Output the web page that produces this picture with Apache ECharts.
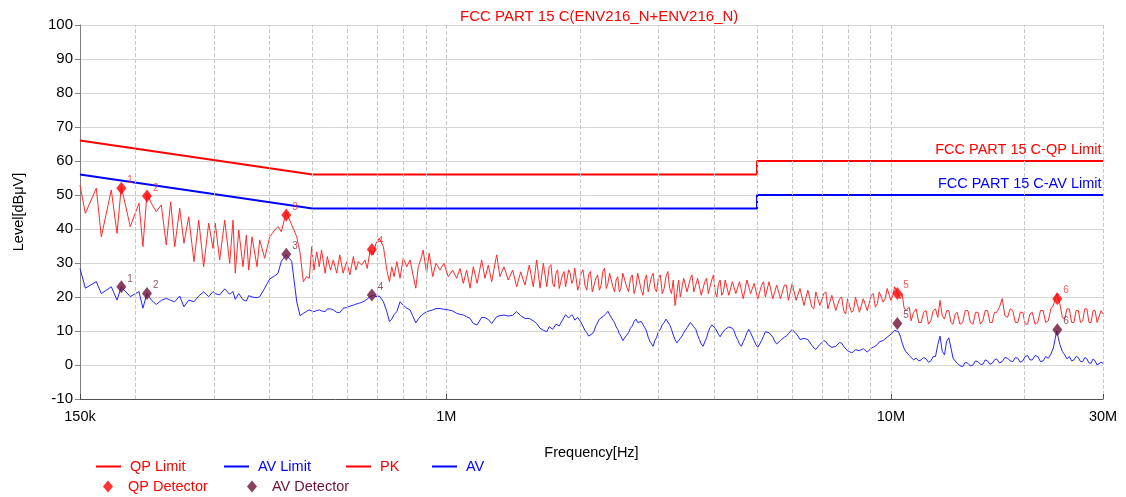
<!DOCTYPE html>
<html><head><meta charset="utf-8">
<script src="https://cdn.jsdelivr.net/npm/echarts@6/dist/echarts.min.js"></script>
<style>html,body{margin:0;padding:0;background:#fff}#c{width:1126px;height:497px}</style>
</head><body><div id="c"></div>
<script>
// Frequencies in MHz
const freqMHz = [
0.150,0.1542,0.1632,0.1675,0.1764,0.1817,0.1858,0.1946,0.2036,0.2078,
0.2122,0.2170,0.2226,0.2285,0.2345,0.2399,0.2450,0.2514,0.2570,0.2634,
0.2707,0.2774,0.2846,0.2921,0.2987,0.3022,0.3092,0.3174,0.3257,0.3313,
0.3352,0.3413,0.3489,0.3550,0.3594,0.3656,0.3752,0.3805,0.3904,0.4007,
0.4112,0.4183,0.4255,0.4366,
0.449,0.461,0.469,0.477,0.485,0.492,0.498,0.504,0.511,0.518,
0.524,0.534,0.540,0.549,0.557,0.567,0.576,0.586,0.597,0.607,
0.618,0.626,0.634,0.645,0.656,0.664,0.674,0.685,0.695,0.707,
0.722,0.735,0.745,0.754,0.763,0.774,0.787,0.800,0.815,0.829,
0.840,0.854,0.865,0.880,0.887,0.903,0.915,0.932,0.948,0.968,
0.988,1.010,1.034,1.055,1.074,1.092,1.111,1.131,1.150,1.173,
1.201,1.222,1.243,1.265,1.298,1.320,1.348,1.378,1.410,1.440,
1.470,1.503,1.537,1.569,1.597,1.625,1.653,1.683,1.704,
1.72,1.735,1.75,1.765,1.78,1.795,1.81,1.825,1.84,1.855,1.87,1.885,1.90,1.915,1.93,1.945,1.96,1.975,1.99,2.01,
2.03,2.05,2.07,2.09,2.11,2.13,2.15,2.17,2.19,2.21,2.23,2.25,2.27,2.29,2.31,2.33,2.35,2.37,2.39,2.41,
2.43,2.45,2.47,2.495,2.52,2.545,2.57,2.595,2.62,2.645,2.67,2.695,2.72,2.745,2.77,2.795,2.82,2.845,2.87,2.895,
2.92,2.945,2.97,3.00,3.03,3.06,3.09,3.12,3.15,3.18,3.21,3.24,3.27,3.30,3.33,3.36,3.39,3.42,3.45,3.48,
3.51,3.54,3.57,3.605,3.64,3.675,3.71,3.745,3.78,3.815,3.85,3.885,3.92,3.955,3.99,4.025,4.06,4.095,4.13,4.165,
4.20,4.24,4.28,4.32,4.36,4.40,4.44,4.48,4.52,4.565,4.61,4.655,4.70,4.745,4.79,4.835,4.88,4.925,4.97,5.02,
5.07,5.12,5.17,5.22,5.27,5.32,5.37,5.425,5.48,5.535,5.59,5.645,5.70,5.76,5.82,5.88,5.94,6.00,6.06,6.12,
6.18,6.245,6.31,6.375,6.44,6.505,6.57,6.64,6.71,6.78,6.85,6.92,6.99,7.065,7.14,7.215,7.29,7.365,7.44,7.515,
7.59,7.67,7.75,7.83,7.91,7.99,8.07,8.155,8.24,8.325,8.41,8.495,8.58,8.67,8.76,8.85,8.94,9.035,9.13,9.225,
9.32,9.415,9.51,9.61,9.71,9.81,9.91,10.0,10.1,10.2,10.3,10.4,10.5,10.6,10.7,10.8,10.9,11.0,11.1,11.25,
11.4,11.55,11.7,11.85,12.0,12.15,12.3,12.45,12.6,12.75,12.9,13.05,13.2,13.35,13.5,13.65,13.8,13.95,14.1,14.3,
14.5,14.7,14.9,15.1,15.3,15.5,15.7,15.9,16.1,16.3,16.5,16.7,16.9,17.1,17.3,17.55,17.8,18.05,18.3,18.55,
18.8,19.05,19.3,19.55,19.8,20.05,20.3,20.55,20.8,21.1,21.4,21.7,22.0,22.3,22.6,22.9,23.2,23.4,23.6,23.8,
24.0,24.3,24.6,24.9,25.2,25.5,25.8,26.1,26.4,26.7,27.0,27.3,27.6,27.9,28.2,28.5,28.8,29.1,29.4,29.7,
30.0];
// PK trace, dBµV
const pkLevel = [
52.9,44.6,52.0,37.7,51.5,38.7,52.5,40.7,47.6,34.8,
50.5,47.6,45.1,47.1,35.3,48.0,34.8,46.1,35.8,43.6,
30.4,42.6,28.9,41.7,34.3,41.7,30.9,42.6,29.9,42.6,
27.0,39.7,28.9,38.2,27.9,37.7,28.9,36.8,31.4,37.7,
39.7,40.7,39.2,45.0,
41.2,37.7,32.9,24.5,26.0,25.5,34.8,27.9,33.3,28.9,
33.8,27.0,31.9,27.9,30.9,27.0,32.4,27.0,30.4,26.5,
31.9,27.9,30.4,29.4,30.9,28.4,33.8,32.4,35.8,37.3,
34.8,27.9,24.5,28.9,26.0,30.4,25.5,31.4,28.9,30.9,
27.0,22.6,28.9,31.9,33.8,27.0,32.9,26.0,29.9,27.9,
29.9,26.0,27.9,25.5,28.4,24.0,27.9,22.6,28.9,24.0,
30.9,25.5,29.4,24.5,32.4,26.0,28.9,25.0,27.9,23.0,
27.4,23.5,29.4,23.0,30.9,22.6,29.9,23.0,28.9,
29.5,24,23,27,28,22.5,24.5,26.5,27.5,23,22.5,28,27,24,25,28.5,28.5,22,23.5,27,
28,23.5,22,26.5,27.5,21.5,21,25.5,26.5,22,23.5,27.5,28.5,22.5,24,27,27.5,23,21.5,25,
26,21.5,22.5,27,27,23,21.5,25.5,26.5,21,23,27,27.5,22,20.5,25,26.5,21.5,22,26,
27,22.5,21.5,25.5,26.5,21,22.5,26,27.5,22.5,21,25,17.5,21,25,20,20.5,25.5,26,21.5,
22,25.5,26.5,21.5,21,25.5,26,20.5,20.5,24.5,25.5,21,21,25,26.5,21.5,20,24,25,20.5,
21.5,25,25.5,20.5,20,24.5,25,21,21,24.5,24.5,19.5,20,25,25.5,21,21,24,24,19.5,
19.5,23.5,24.5,20,20.5,24.5,25,19.5,19,23.5,24,19.5,20,23.5,23.5,19,19.5,24,24.5,19,
18.5,22.5,23,17.5,17,22,22.5,17,16.5,21.5,22,17.5,17.5,21,21.5,16.5,16,20.5,20.5,16,
15.5,19.5,20,16,15,19.5,19.5,15.5,16,20,20,15.5,15.5,19.5,20,16,16.5,20.5,21,17,
18,21.5,22,18.5,19.5,22.5,22.5,19,20.5,23,23,20.5,19.5,21,17,16,15.5,17,13,15.5,
16.5,12.5,12.5,15.5,16,12,13,16,16.5,14,19,14.5,13.5,16,16,12.5,12,15,15.5,12,
12.5,16,16,12.5,12,15.5,15.5,12,13,16,16,12.5,12.5,15.5,15.5,17,19.5,14.5,14,16.5,
16,12.5,12.5,15.5,15.5,12,12,15,15.5,12,12.5,16,16,12.5,13,16.5,17.5,19.5,21,19.5,
18,14,13.5,16.5,16.5,12.5,12.5,16,16,12.5,13,16.5,16.5,12.5,12.5,16,16,12.5,13,16,
15];
// AV trace, dBµV
const avLevel = [
28.4,22.6,24.5,21.0,23.0,19.1,23.0,20.1,21.6,16.7,
21.1,19.1,17.8,19.0,19.6,19.0,18.6,20.3,17.1,19.1,
18.6,20.3,21.5,20.1,21.6,21.0,20.6,22.4,20.8,21.6,
19.3,21.0,19.2,18.8,20.4,20.0,19.8,20.1,22.6,25.3,
26.2,27.0,30.5,32.4,
30.5,18.5,14.5,15.2,15.8,16.2,15.9,15.7,16.0,16.2,
15.9,15.7,16.5,16.5,16.2,15.5,15.4,16.7,16.9,17.3,
17.6,17.9,18.1,18.4,18.9,19.4,20.1,20.5,20.1,20.3,
18.6,15.7,12.8,13.5,14.8,15.7,18.6,17.6,16.7,16.2,
14.5,12.4,13.5,14.7,15.0,15.7,15.9,16.2,16.6,16.6,
16.4,16.2,15.9,15.2,14.9,14.7,14.2,13.7,12.2,11.8,
14.0,13.9,13.4,12.2,14.2,14.5,14.7,14.4,14.6,15.7,
14.5,13.7,13.7,13.0,12.2,10.8,10.2,9.8,11.3,
11.5,10.5,11,12,12.5,11.5,12,13.2,13.5,14.8,14.5,13.8,13.5,14.8,14.2,13.2,12.8,14,13.5,12.5,
12,10.2,9.5,8.5,8,9.2,10,11.5,12,13.5,13,14.2,14.5,15.2,15.8,14.8,14.5,13.2,12.5,11.2,
10.5,9.2,8.5,7.2,7.5,8.8,9.5,10.8,11.5,12.8,13.5,12.5,13,12.8,12.5,11,10,8.2,7,6.2,
5.5,7.2,8,9.8,10.5,11.8,12.5,13.5,13.2,11.8,10.5,8.8,7.5,6.5,6.5,7.8,8.5,9.5,10,11,
11.5,12.5,12.2,11.2,10.5,8.8,7.5,6.2,5.5,6.8,8,9.8,11,11.8,12,10.8,10,9,8.3,9.2,
9.5,10.5,10.5,11.2,11.3,10.8,10,8.5,7.5,6.2,5.5,6.8,8,9.5,10.5,9.5,9,7.2,6,5.2,
5.5,7.2,8.5,9.8,10.3,9.5,9,8.2,7,6.2,6.5,7.2,7.5,8.2,8.5,9.2,9.5,10.5,10.3,9.2,
8.5,7.5,7,7.8,8,7.5,7,5.8,5,4.6,5,6,6.5,7.2,6.9,6,5.5,5.2,4.9,5.5,
5.8,6.6,6.4,5.5,5,4.2,4.2,3.6,3.9,4.5,4.8,4.2,4,4.8,4.5,3.8,4.2,5,5.2,5.6,
6,6.8,6.5,7.2,7.5,8.2,8.3,9,9.5,10.2,10.5,9.8,8.5,6.5,5,4,3.5,2.8,2.4,1.5,
2,1.2,1.5,2.2,1.8,0.8,1.2,2.5,2.5,6,8.5,4,3,7,8,5,2,1.2,0.5,-0.2,
-0.5,0.8,0.5,-0.3,0,1.2,1,0.2,0.2,1.5,1.2,0.2,0.5,1.5,1.8,0.6,1,2.2,2,1.2,
1,2.2,2,0.8,1.2,2.5,2.8,1.5,1.5,2.8,2.5,1,1.2,2.5,2,3.2,5,7.5,10,8,
6,4,3,1.8,2.5,1.2,1.5,2.5,2.2,1,1,2.2,1.8,0.6,0.5,1.8,1.2,0,-0.2,0.8,
0.5];
const qpLimitFreq = [0.15, 0.5, 5, 5, 30];
const qpLimitLevel = [66, 56, 56, 60, 60];
const avLimitFreq = [0.15, 0.5, 5, 5, 30];
const avLimitLevel = [56, 46, 46, 50, 50];
const detFreq = [0.1858, 0.2122, 0.4366, 0.680, 10.34, 23.68];
const qpDetLevel = [52.0, 49.7, 44.1, 34.0, 21.0, 19.5];
const avDetLevel = [23.0, 21.0, 32.6, 20.6, 12.2, 10.4];
const detLabels = ['1', '2', '3', '4', '5', '6'];
const xTickLabels = {'0.15': '150k', '1': '1M', '10': '10M', '30': '30M'};
const minorGridMHz = [0.2,0.3,0.4,0.5,0.6,0.7,0.8,0.9,2,3,4,5,6,7,8,9,20];

const FONT = 'Arial, "Liberation Sans", sans-serif';
const RED = '#ff0000', BLUE = '#0000ff', AVDET = '#6e1038';
const pair = (xs, ys) => xs.map((x, i) => [x, ys[i]]);

const chart = echarts.init(document.getElementById('c'), null, {renderer: 'canvas'});
function legendItem(name, left, top, color, icon, w, h, pad) {
  return {
    data: [{name: name, icon: icon}], left: left, top: top, itemWidth: w, itemHeight: h,
    selectedMode: false, padding: 0,
    textStyle: {color: color, fontSize: 14.5, fontFamily: FONT, padding: [0, 0, 0, pad]}
  };
}
chart.setOption({
  animation: false,
  backgroundColor: '#ffffff',
  title: {
    text: 'FCC PART 15 C(ENV216_N+ENV216_N)', left: 455, top: 4,
    textStyle: {color: RED, fontSize: 15, fontWeight: 'normal', fontFamily: FONT}
  },
  grid: {left: 80, right: 23, top: 25, bottom: 98},
  legend: [
    legendItem('QP Limit', 96, 459, RED, 'rect', 25, 2, 4),
    legendItem('AV Limit', 224, 459, BLUE, 'rect', 25, 2, 4),
    legendItem('PK', 346, 459, RED, 'rect', 25, 2, 4),
    legendItem('AV', 432, 459, BLUE, 'rect', 25, 2, 4),
    legendItem('QP Detector', 103, 479, RED, 'diamond', 10, 12, 10),
    legendItem('AV Detector', 247, 479, AVDET, 'diamond', 10, 12, 10)
  ],
  xAxis: {
    type: 'log', logBase: 10, min: 0.15, max: 30,
    name: 'Frequency[Hz]', nameLocation: 'middle', nameGap: 46,
    nameTextStyle: {color: '#000', fontSize: 14.5, fontFamily: FONT},
    axisLine: {onZero: false, lineStyle: {color: '#505050', width: 1}},
    axisTick: {show: true, inside: true, length: 5, lineStyle: {color: '#505050'}},
    axisLabel: {
      color: '#000', fontSize: 14.5, fontFamily: FONT, margin: 10,
      showMinLabel: true, showMaxLabel: true,
      formatter: v => xTickLabels[String(Math.round(v * 100) / 100)] || ''
    },
    splitLine: {show: true, lineStyle: {color: '#c8c8c8', type: 'dashed', width: 1}}
  },
  yAxis: {
    type: 'value', min: -10, max: 100, interval: 10,
    name: 'Level[dBμV]', nameLocation: 'middle', nameGap: 54, nameRotate: 90,
    nameTextStyle: {color: '#000', fontSize: 14.5, fontFamily: FONT},
    axisLine: {show: true, onZero: false, lineStyle: {color: '#808080', width: 1}},
    axisTick: {show: true, length: 5, lineStyle: {color: '#808080'}},
    axisLabel: {color: '#000', fontSize: 15, fontFamily: FONT, margin: 7},
    splitLine: {show: true, lineStyle: {color: '#d6d6d6', width: 1}}
  },
  series: [
    {
      name: 'grid', type: 'line', data: [], silent: true, z: 1,
      markLine: {
        silent: true, symbol: 'none', animation: false, label: {show: false},
        lineStyle: {color: '#c8c8c8', type: 'dashed', width: 1},
        data: minorGridMHz.map(v => ({xAxis: v}))
      }
    },
    {
      name: 'PK', type: 'line', data: pair(freqMHz, pkLevel), showSymbol: false, z: 3,
      lineStyle: {color: '#ff2a2a', width: 1}, itemStyle: {color: RED}
    },
    {
      name: 'AV', type: 'line', data: pair(freqMHz, avLevel), showSymbol: false, z: 3,
      lineStyle: {color: '#2424ff', width: 1}, itemStyle: {color: BLUE}
    },
    {
      name: 'QP Limit', type: 'line', data: pair(qpLimitFreq, qpLimitLevel), showSymbol: false, z: 4,
      lineStyle: {color: RED, width: 2}, itemStyle: {color: RED},
      markPoint: {
        silent: true, symbol: 'rect', symbolSize: 1, itemStyle: {color: 'rgba(0,0,0,0)'},
        data: [{coord: [qpLimitFreq[4], qpLimitLevel[4]], value: 0,
          label: {show: true, formatter: 'FCC PART 15 C-QP Limit', position: [0, 0], align: 'right',
            verticalAlign: 'bottom', offset: [-1, -3], color: RED, fontSize: 14.5, fontFamily: FONT}}]
      }
    },
    {
      name: 'AV Limit', type: 'line', data: pair(avLimitFreq, avLimitLevel), showSymbol: false, z: 4,
      lineStyle: {color: BLUE, width: 2}, itemStyle: {color: BLUE},
      markPoint: {
        silent: true, symbol: 'rect', symbolSize: 1, itemStyle: {color: 'rgba(0,0,0,0)'},
        data: [{coord: [avLimitFreq[4], avLimitLevel[4]], value: 0,
          label: {show: true, formatter: 'FCC PART 15 C-AV Limit', position: [0, 0], align: 'right',
            verticalAlign: 'bottom', offset: [-1, -3], color: BLUE, fontSize: 14.5, fontFamily: FONT}}]
      }
    },
    {
      name: 'QP Detector', type: 'scatter', data: pair(detFreq, qpDetLevel), z: 6,
      symbol: 'diamond', symbolSize: [10, 13], itemStyle: {color: RED},
      label: {show: true, position: 'right', distance: 1, offset: [0, -8],
        formatter: p => detLabels[p.dataIndex], color: '#ff3030', fontSize: 10, fontFamily: FONT}
    },
    {
      name: 'AV Detector', type: 'scatter', data: pair(detFreq, avDetLevel), z: 6,
      symbol: 'diamond', symbolSize: [10, 13], itemStyle: {color: AVDET},
      label: {show: true, position: 'right', distance: 1, offset: [0, -8],
        formatter: p => detLabels[p.dataIndex], color: '#6e2a4a', fontSize: 10, fontFamily: FONT}
    }
  ]
});
</script></body></html>
